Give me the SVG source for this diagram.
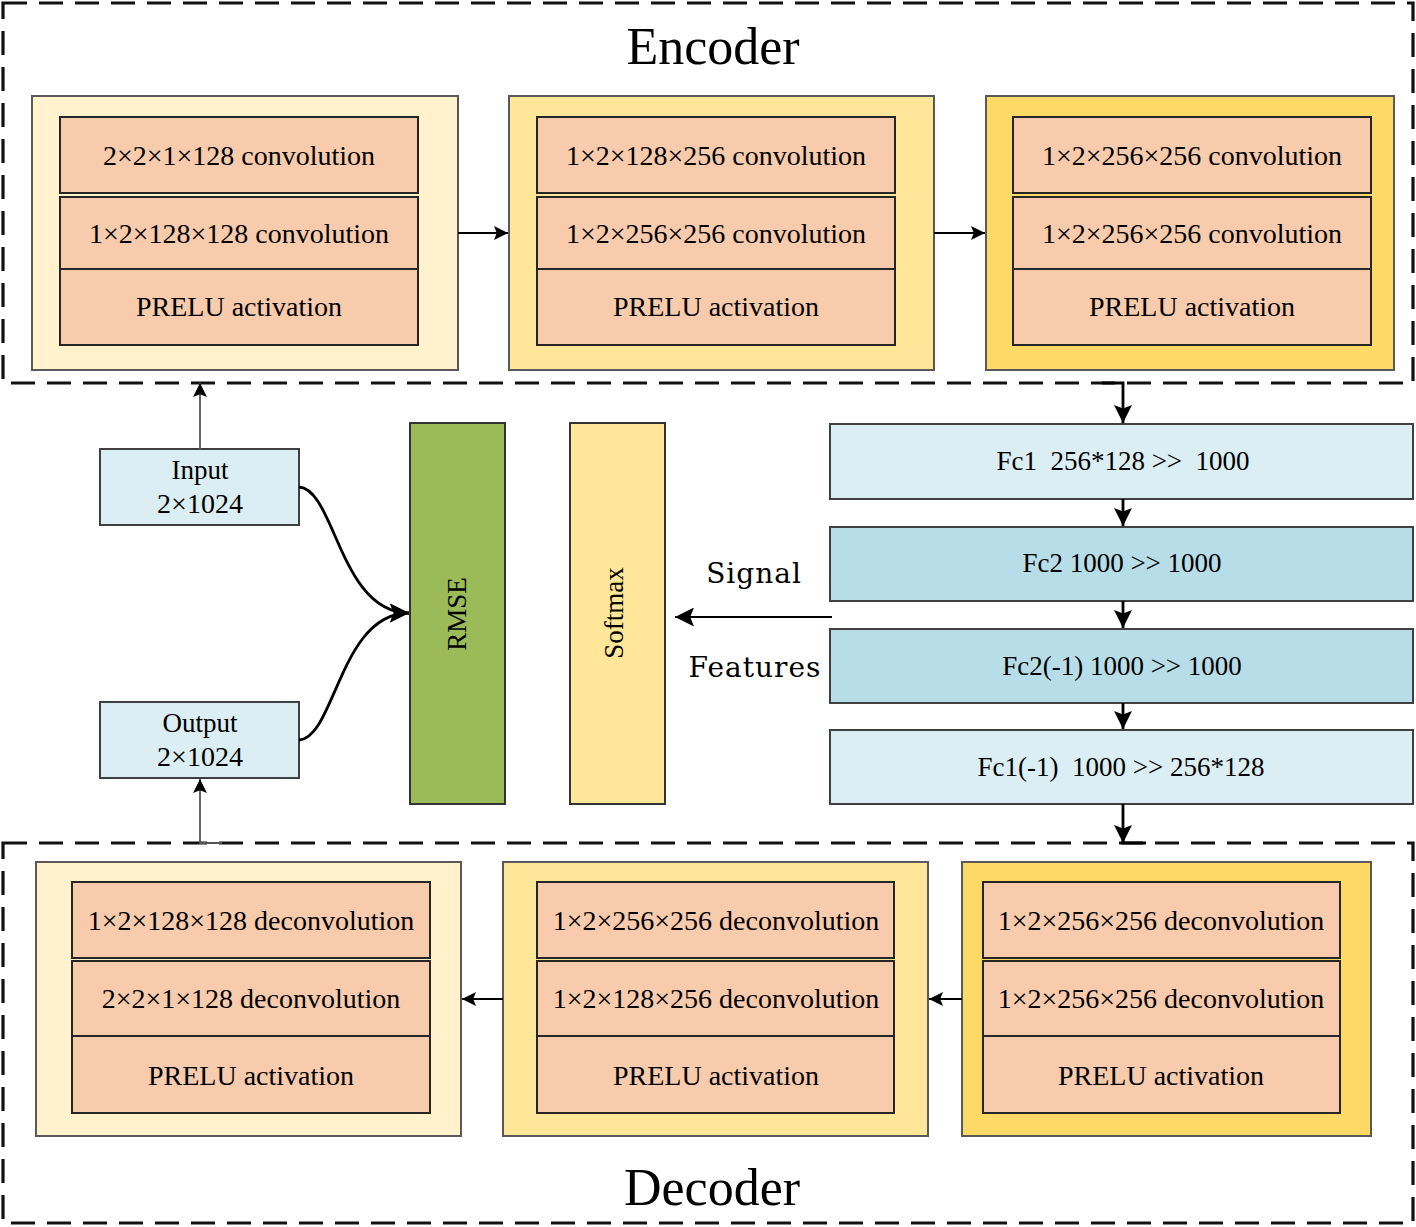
<svg xmlns="http://www.w3.org/2000/svg" width="1416" height="1227" viewBox="0 0 1416 1227">
<defs>
<style>
.frame{fill:none;stroke:#111;stroke-width:3.2;stroke-dasharray:24,12}
.o1{fill:#FFF2CC;stroke:#595959;stroke-width:2}
.o2{fill:#FFE699;stroke:#595959;stroke-width:2}
.o3{fill:#FFD966;stroke:#595959;stroke-width:2}
.in{fill:#F8CBAD;stroke:#262626;stroke-width:2}
.lb{fill:#DAEEF3;stroke:#404040;stroke-width:2}
.db{fill:#B7DDE8;stroke:#404040;stroke-width:2}
.t{font-family:"Liberation Serif","Times New Roman",serif;font-size:28px;fill:#000;text-anchor:middle;dominant-baseline:central}
.f{font-family:"Liberation Serif","Times New Roman",serif;font-size:27px;fill:#000;text-anchor:middle;dominant-baseline:central;white-space:pre}
.title{font-family:"Liberation Serif","Times New Roman",serif;font-size:52px;fill:#000;text-anchor:middle}
.lab{font-family:"DejaVu Serif",serif;font-size:28px;fill:#000;text-anchor:middle;dominant-baseline:central;letter-spacing:1px}
.c{fill:none;stroke:#000;stroke-width:1.8}
.cg{fill:none;stroke:#555;stroke-width:1.8}
.ct{fill:none;stroke:#000;stroke-width:2.8}
</style>
<marker id="ah" viewBox="0 0 10 10" refX="10" refY="5" markerWidth="17" markerHeight="14" markerUnits="userSpaceOnUse" orient="auto"><path d="M0,0 L10,5 L0,10 L2,5 z" fill="#000"/></marker>
<marker id="ahb" viewBox="0 0 10 10" refX="10" refY="5" markerWidth="19" markerHeight="18" markerUnits="userSpaceOnUse" orient="auto"><path d="M0,0 L10,5 L0,10 L2,5 z" fill="#000"/></marker>
<marker id="ahl" viewBox="0 0 10 10" refX="10" refY="5" markerWidth="21" markerHeight="19" markerUnits="userSpaceOnUse" orient="auto"><path d="M0,0 L10,5 L0,10 L2,5 z" fill="#000"/></marker>
</defs>
<rect width="1416" height="1227" fill="#fff"/>

<g id="encoder-frame">
<rect class="frame" x="3" y="3" width="1410" height="380"/>
<text class="title" x="713" y="64">Encoder</text>
</g>
<g id="decoder-frame">
<rect class="frame" x="3" y="843" width="1410" height="380"/>
<text class="title" x="712" y="1205">Decoder</text>
</g>

<g id="enc1">
<rect class="o1" x="32" y="96" width="426" height="274"/>
<rect class="in" x="60" y="117" width="358" height="76"/>
<rect class="in" x="60" y="197" width="358" height="72"/>
<rect class="in" x="60" y="269" width="358" height="76"/>
<text class="t" x="239" y="155">2×2×1×128 convolution</text>
<text class="t" x="239" y="233">1×2×128×128 convolution</text>
<text class="t" x="239" y="306">PRELU activation</text>
</g>
<g id="enc2">
<rect class="o2" x="509" y="96" width="425" height="274"/>
<rect class="in" x="537" y="117" width="358" height="76"/>
<rect class="in" x="537" y="197" width="358" height="72"/>
<rect class="in" x="537" y="269" width="358" height="76"/>
<text class="t" x="716" y="155">1×2×128×256 convolution</text>
<text class="t" x="716" y="233">1×2×256×256 convolution</text>
<text class="t" x="716" y="306">PRELU activation</text>
</g>
<g id="enc3">
<rect class="o3" x="986" y="96" width="408" height="274"/>
<rect class="in" x="1013" y="117" width="358" height="76"/>
<rect class="in" x="1013" y="197" width="358" height="72"/>
<rect class="in" x="1013" y="269" width="358" height="76"/>
<text class="t" x="1192" y="155">1×2×256×256 convolution</text>
<text class="t" x="1192" y="233">1×2×256×256 convolution</text>
<text class="t" x="1192" y="306">PRELU activation</text>
</g>

<g id="input">
<rect class="lb" x="100" y="449" width="199" height="76"/>
<text class="t" x="200" y="470" style="font-size:27px">Input</text>
<text class="t" x="200" y="503">2×1024</text>
</g>
<g id="output">
<rect class="lb" x="100" y="702" width="199" height="76"/>
<text class="t" x="200" y="723" style="font-size:27px">Output</text>
<text class="t" x="200" y="756">2×1024</text>
</g>
<g id="rmse">
<rect x="410" y="423" width="95" height="381" fill="#9BBB59" stroke="#333" stroke-width="2"/>
<text class="t" x="0" y="0" style="font-size:27px" transform="translate(457,614) rotate(-90)">RMSE</text>
</g>
<g id="softmax">
<rect x="570" y="423" width="95" height="381" fill="#FFE699" stroke="#333" stroke-width="2"/>
<text class="t" x="0" y="0" style="font-size:27px" transform="translate(614,613) rotate(-90)">Softmax</text>
</g>

<g id="fc1">
<rect class="lb" x="830" y="424" width="583" height="75"/>
<text class="f" x="1123" y="461" xml:space="preserve">Fc1  256*128 &gt;&gt;  1000</text>
</g>
<g id="fc2">
<rect class="db" x="830" y="527" width="583" height="74"/>
<text class="f" x="1122" y="563" xml:space="preserve">Fc2 1000 &gt;&gt; 1000</text>
</g>
<g id="fc2inv">
<rect class="db" x="830" y="629" width="583" height="74"/>
<text class="f" x="1122" y="666" xml:space="preserve">Fc2(-1) 1000 &gt;&gt; 1000</text>
</g>
<g id="fc1inv">
<rect class="lb" x="830" y="730" width="583" height="74"/>
<text class="f" x="1121" y="767" xml:space="preserve">Fc1(-1)  1000 &gt;&gt; 256*128</text>
</g>

<g id="dec1">
<rect class="o1" x="36" y="862" width="425" height="274"/>
<rect class="in" x="72" y="882" width="358" height="76"/>
<rect class="in" x="72" y="961" width="358" height="75"/>
<rect class="in" x="72" y="1036" width="358" height="77"/>
<text class="t" x="251" y="920">1×2×128×128 deconvolution</text>
<text class="t" x="251" y="998">2×2×1×128 deconvolution</text>
<text class="t" x="251" y="1075">PRELU activation</text>
</g>
<g id="dec2">
<rect class="o2" x="503" y="862" width="425" height="274"/>
<rect class="in" x="537" y="882" width="357" height="76"/>
<rect class="in" x="537" y="961" width="357" height="75"/>
<rect class="in" x="537" y="1036" width="357" height="77"/>
<text class="t" x="716" y="920">1×2×256×256 deconvolution</text>
<text class="t" x="716" y="998">1×2×128×256 deconvolution</text>
<text class="t" x="716" y="1075">PRELU activation</text>
</g>
<g id="dec3">
<rect class="o3" x="962" y="862" width="409" height="274"/>
<rect class="in" x="983" y="882" width="357" height="76"/>
<rect class="in" x="983" y="961" width="357" height="75"/>
<rect class="in" x="983" y="1036" width="357" height="77"/>
<text class="t" x="1161" y="920">1×2×256×256 deconvolution</text>
<text class="t" x="1161" y="998">1×2×256×256 deconvolution</text>
<text class="t" x="1161" y="1075">PRELU activation</text>
</g>

<g id="labels">
<text class="lab" x="754" y="573">Signal</text>
<text class="lab" x="755" y="667">Features</text>
</g>

<g id="connectors">
<line class="c" x1="458" y1="233" x2="508" y2="233" marker-end="url(#ah)"/>
<line class="c" x1="934" y1="233" x2="985" y2="233" marker-end="url(#ah)"/>
<path class="ct" d="M1102,383 H1123 V423" marker-end="url(#ahb)"/>
<line class="ct" x1="1123" y1="499" x2="1123" y2="526" marker-end="url(#ahb)"/>
<line class="ct" x1="1123" y1="601" x2="1123" y2="628" marker-end="url(#ahb)"/>
<line class="ct" x1="1123" y1="703" x2="1123" y2="729" marker-end="url(#ahb)"/>
<path class="ct" d="M1123,830 V843 H1146"/>
<line class="ct" x1="1123" y1="804" x2="1123" y2="843" marker-end="url(#ahb)"/>
<line class="c" x1="832" y1="617" x2="675" y2="617" marker-end="url(#ahl)"/>
<path class="ct" d="M299,487 C335,489 340,613 409,613" marker-end="url(#ahl)"/>
<path class="ct" d="M299,740 C335,738 340,613 409,613" marker-end="url(#ahl)"/>
<line class="cg" x1="200" y1="449" x2="200" y2="383" marker-end="url(#ah)"/>
<path class="cg" d="M222,843 H200 V779" marker-end="url(#ah)"/>
<line class="c" x1="962" y1="999" x2="929" y2="999" marker-end="url(#ah)"/>
<line class="c" x1="503" y1="999" x2="462" y2="999" marker-end="url(#ah)"/>
</g>
</svg>
